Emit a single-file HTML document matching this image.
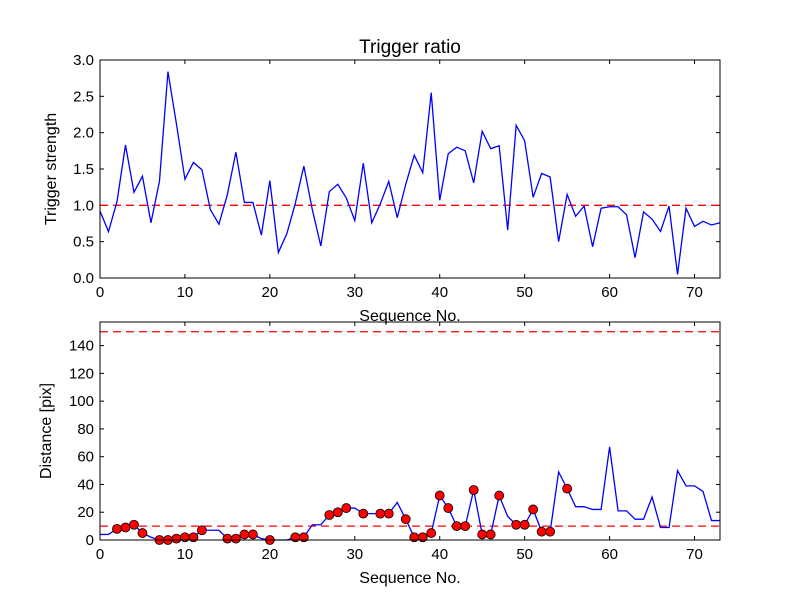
<!DOCTYPE html>
<html><head><meta charset="utf-8"><style>
body{margin:0;background:#fff;}
svg text{font-family:"Liberation Sans","DejaVu Sans",sans-serif;fill:#000;}
</style></head><body>
<svg id="c" width="800" height="600" xmlns="http://www.w3.org/2000/svg"></svg>
<script>
const strength=[0.92,0.64,1.05,1.83,1.18,1.40,0.76,1.33,2.84,2.12,1.36,1.59,1.49,0.94,0.74,1.15,1.73,1.04,1.04,0.59,1.34,0.35,0.61,1.03,1.54,0.94,0.44,1.19,1.29,1.10,0.79,1.58,0.76,1.02,1.33,0.83,1.29,1.69,1.45,2.55,1.07,1.71,1.80,1.75,1.31,2.02,1.78,1.82,0.66,2.10,1.89,1.11,1.44,1.39,0.50,1.15,0.85,0.99,0.43,0.96,0.98,0.98,0.87,0.28,0.91,0.81,0.64,0.99,0.05,0.96,0.71,0.78,0.73,0.76];
const distance=[4,4,8,9,11,5,2,0,0,1,2,2,7,7,7,1,1,4,4,1,0,0,0,2,2,11,11,18,20,23,23,19,19,19,19,27,15,2,2,5,32,23,10,10,36,4,4,32,17,11,11,22,6,6,49,37,24,24,22,22,67,21,21,15,15,31,9,9,50,39,39,35,14,14];
const markerIdx=[2,3,4,5,7,8,9,10,11,12,15,16,17,18,20,23,24,27,28,29,31,33,34,36,37,38,39,40,41,42,43,44,45,46,47,49,50,51,52,53,55];
const xTicks=[0,10,20,30,40,50,60,70];
const yTicksTop=[0,0.5,1,1.5,2,2.5,3];
const yTicksBot=[0,20,40,60,80,100,120,140];
const svg=document.getElementById('c');
const NS='http://www.w3.org/2000/svg';
function mk(t,a,p){const e=document.createElementNS(NS,t);for(const k in a)e.setAttribute(k,a[k]);(p||svg).appendChild(e);return e;}
const L=100,R=720;
const sx=v=>L+(v/73)*(R-L);
function panel(top,bot,ymax,ticks,fmt,ylab,name){
  const sy=v=>bot-(v/ymax)*(bot-top);
  const g=mk('g',{});
  
  
  xTicks.forEach(t=>{
    mk('line',{x1:sx(t),x2:sx(t),y1:bot,y2:bot-4,stroke:'#000'},g);
    mk('line',{x1:sx(t),x2:sx(t),y1:top,y2:top+4,stroke:'#000'},g);
    const tx=mk('text',{x:sx(t),y:bot+19,'text-anchor':'middle','font-size':'15'},g);tx.textContent=t;
    
    
  });
  ticks.forEach(t=>{
    mk('line',{x1:L,x2:L+4,y1:sy(t),y2:sy(t),stroke:'#000'},g);
    mk('line',{x1:R,x2:R-4,y1:sy(t),y2:sy(t),stroke:'#000'},g);
    const tx=mk('text',{x:L-6,y:sy(t)+5,'text-anchor':'end','font-size':'15'},g);tx.textContent=fmt(t);
    
    
  });
  const xl=mk('text',{x:410,y:bot+43,'text-anchor':'middle','font-size':'16'},g);xl.textContent='Sequence No.';
  
  
  const yl=mk('text',{x:0,y:0,'text-anchor':'middle','font-size':'16',transform:`translate(${name==='top-panel'?56:51},${(top+bot)/2}) rotate(-90)`},g);yl.textContent=ylab;
  
  
  return {g,sy};
}
const p1=panel(60,278,3,yTicksTop,t=>t.toFixed(1),'Trigger strength','top-panel');
let th=mk('line',{x1:L,x2:R,y1:p1.sy(1),y2:p1.sy(1),stroke:'#f00','stroke-width':1.3,'stroke-dasharray':'8,5'},p1.g);


let ln=mk('polyline',{points:strength.map((v,i)=>sx(i)+','+p1.sy(v)).join(' '),fill:'none',stroke:'#00f','stroke-width':1.3},p1.g);


mk('rect',{x:L,y:60,width:R-L,height:218,fill:'none',stroke:'#000'},p1.g);
const title=mk('text',{x:410,y:53,'text-anchor':'middle','font-size':'19'});title.textContent='Trigger ratio';


const p2=panel(322,540,157,yTicksBot,t=>t,'Distance [pix]','bottom-panel');
[10,150].forEach(v=>{
  const d=mk('line',{x1:L,x2:R,y1:p2.sy(v),y2:p2.sy(v),stroke:'#f00','stroke-width':1.3,'stroke-dasharray':'8,5'},p2.g);
  
  
});
ln=mk('polyline',{points:distance.map((v,i)=>sx(i)+','+p2.sy(v)).join(' '),fill:'none',stroke:'#00f','stroke-width':1.3},p2.g);


markerIdx.forEach(i=>{
  const c=mk('circle',{cx:sx(i),cy:p2.sy(distance[i]),r:4.5,fill:'#f00',stroke:'#000','stroke-width':0.8},p2.g);
  
  
});
mk('rect',{x:L,y:322,width:R-L,height:218,fill:'none',stroke:'#000'},p2.g);
</script>
</body></html>
